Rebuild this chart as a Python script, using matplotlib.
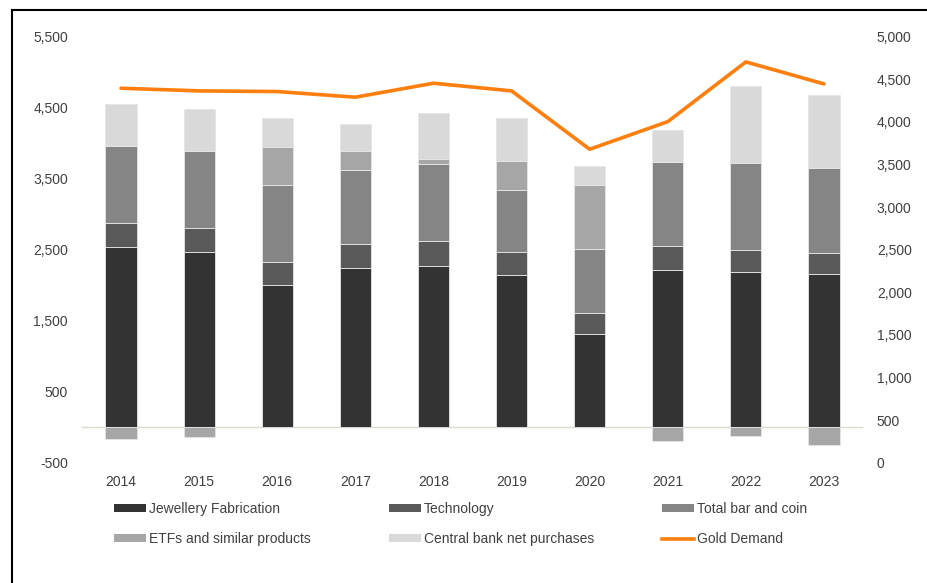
import numpy as np
import matplotlib
matplotlib.use('Agg')
import matplotlib.pyplot as plt
from matplotlib.lines import Line2D
from matplotlib.patches import Patch
from matplotlib.ticker import FuncFormatter

plt.rcParams['font.family'] = ['Liberation Sans', 'DejaVu Sans']

years = ['2014', '2015', '2016', '2017', '2018', '2019', '2020', '2021', '2022', '2023']
jewellery = [2539, 2468, 2009, 2243, 2276, 2150, 1319, 2215, 2187, 2159]
technology = [338, 334, 314, 338, 343, 319, 296, 338, 315, 296]
bar_coin = [1084, 1094, 1084, 1042, 1089, 873, 901, 1178, 1215, 1192]
etfs = [-169, -131, 540, 273, 65, 403, 896, -193, -117, -249]
central_bank = [591, 581, 404, 380, 658, 606, 263, 455, 1084, 1037]
gold_demand = [4395, 4364, 4356, 4290, 4454, 4364, 3679, 4003, 4704, 4446]

colors = {
    'Jewellery Fabrication': '#333333',
    'Technology': '#595959',
    'Total bar and coin': '#858585',
    'ETFs and similar products': '#a6a6a6',
    'Central bank net purchases': '#d9d9d9',
}
orange = '#ff7f0e'
txt = '#404040'

fig = plt.figure(figsize=(9.27, 5.83), dpi=100)
ax = fig.add_axes([82 / 927, 1 - 462.7 / 583, 781 / 927, 426 / 583])
ax2 = ax.twinx()

x = np.arange(len(years))
w = 0.4
pos_base = np.zeros(len(years))
neg_base = np.zeros(len(years))
series = [
    ('Jewellery Fabrication', jewellery),
    ('Technology', technology),
    ('Total bar and coin', bar_coin),
    ('ETFs and similar products', etfs),
    ('Central bank net purchases', central_bank),
]
for name, vals in series:
    vals = np.array(vals, dtype=float)
    base = np.where(vals >= 0, pos_base, neg_base)
    ax.bar(x, vals, w, bottom=base, color=colors[name], edgecolor='#e6e6e6', linewidth=0.6, zorder=2)
    pos_base += np.where(vals >= 0, vals, 0)
    neg_base += np.where(vals < 0, vals, 0)

ax.axhline(0, color='#e0dbd0', linewidth=1, zorder=1)

ax2.plot(x, gold_demand, color=orange, linewidth=2.6, solid_capstyle='round', zorder=3)

ax.set_xlim(-0.5, len(years) - 0.5)
ax.set_ylim(-500, 5500)
ax.set_yticks(np.arange(-500, 5501, 1000))
ax2.set_ylim(0, 5000)
ax2.set_yticks(np.arange(0, 5001, 500))

fmt = FuncFormatter(lambda v, p: f'{int(v):,}')
ax.yaxis.set_major_formatter(fmt)
ax2.yaxis.set_major_formatter(fmt)
ax.set_xticks(x)
ax.set_xticklabels(years)

for a in (ax, ax2):
    for s in a.spines.values():
        s.set_visible(False)
    a.tick_params(length=0, labelsize=10, labelcolor=txt)
ax.tick_params(axis='y', pad=10)
ax2.tick_params(axis='y', pad=10)
ax.tick_params(axis='x', pad=9)

# legend split into three columns placed by hand
cols = [
    [('Jewellery Fabrication', 'patch'), ('ETFs and similar products', 'patch')],
    [('Technology', 'patch'), ('Central bank net purchases', 'patch')],
    [('Total bar and coin', 'patch'), ('Gold Demand', 'line')],
]
col_x = [114 / 927, 389 / 927, 662 / 927]
for cx, entries in zip(col_x, cols):
    handles = []
    for name, kind in entries:
        if kind == 'patch':
            handles.append(Patch(facecolor=colors[name], edgecolor='none', label=name))
        else:
            handles.append(Line2D([0], [0], color=orange, linewidth=2.6, label=name))
    fig.legend(handles=handles, loc='upper left', bbox_to_anchor=(cx, 1 - 502 / 583),
               frameon=False, fontsize=10, labelcolor=txt, handlelength=2.3,
               handleheight=0.5, handletextpad=0.2, labelspacing=1.15,
               borderpad=0, borderaxespad=0)

# outer frame lines on the left and top
fig.add_artist(Line2D([11.5 / 927, 11.5 / 927], [0, 1 - 10 / 583], color='black', linewidth=1.5))
fig.add_artist(Line2D([11.5 / 927, 1], [1 - 10 / 583, 1 - 10 / 583], color='black', linewidth=1.5))

fig.savefig('out.png', dpi=100)
